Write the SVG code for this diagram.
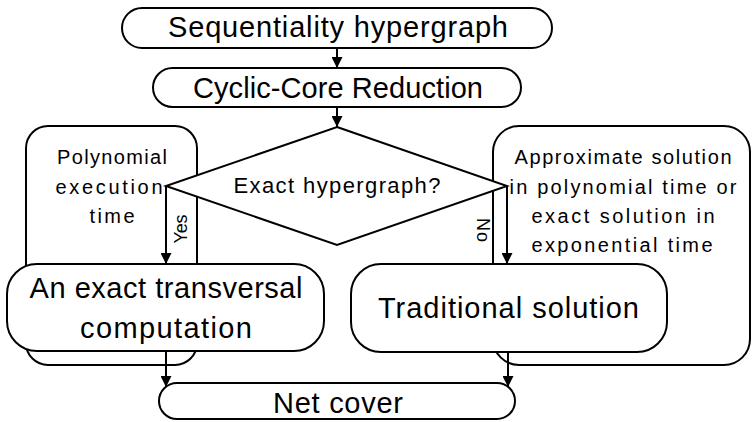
<svg xmlns="http://www.w3.org/2000/svg" width="753" height="422" viewBox="0 0 753 422">
  <style>
    .box { fill: #ffffff; stroke: #000000; stroke-width: 2; }
    .edge { fill: none; stroke: #000000; stroke-width: 2; }
    text { font-family: "Liberation Sans", Arial, sans-serif; fill: #000000; text-anchor: middle; }
    .big { font-size: 29px; }
    .mid { font-size: 22px; }
    .small { font-size: 20px; }
    .lbl { font-size: 18px; }
  </style>
  <defs>
    <marker id="arrow" markerUnits="userSpaceOnUse" markerWidth="11" markerHeight="11" refX="11" refY="5.5" orient="auto">
      <path d="M0,0 L11,5.5 L0,11 Z" fill="#000000"/>
    </marker>
  </defs>
  <rect width="753" height="422" fill="#ffffff"/>

  <g id="note-polynomial">
    <rect class="box" x="26" y="126" width="171" height="239" rx="22" ry="22"/>
    <text class="small" x="112" y="164" textLength="110" lengthAdjust="spacing">Polynomial</text>
    <text class="small" x="109" y="194" textLength="107" lengthAdjust="spacing">execution</text>
    <text class="small" x="112" y="223" textLength="45" lengthAdjust="spacing">time</text>
  </g>

  <g id="note-approximate">
    <rect class="box" x="493" y="126" width="257" height="239" rx="26" ry="26"/>
    <text class="small" x="623" y="164" textLength="217" lengthAdjust="spacing">Approximate solution</text>
    <text class="small" x="623" y="194" textLength="227" lengthAdjust="spacing">in polynomial time or</text>
    <text class="small" x="623" y="223" textLength="183" lengthAdjust="spacing">exact solution in</text>
    <text class="small" x="622" y="252" textLength="181" lengthAdjust="spacing">exponential time</text>
  </g>

  <g id="start">
    <rect class="box" x="122" y="8" width="430" height="40" rx="20" ry="20"/>
    <text class="big" x="338" y="37" textLength="340" lengthAdjust="spacing">Sequentiality hypergraph</text>
  </g>

  <g id="reduction">
    <rect class="box" x="153" y="68" width="368" height="39" rx="19.5" ry="19.5"/>
    <text class="big" x="338" y="98" textLength="290" lengthAdjust="spacing">Cyclic-Core Reduction</text>
  </g>

  <g id="decision">
    <polygon class="box" points="337,127 507,186 337,245 166,186"/>
    <text class="mid" x="337" y="193" textLength="207" lengthAdjust="spacing">Exact hypergraph?</text>
  </g>

  <g id="exact">
    <rect class="box" x="7" y="264" width="317" height="87" rx="30" ry="30"/>
    <text class="big" x="166" y="298" textLength="273" lengthAdjust="spacing">An exact transversal</text>
    <text class="big" x="166" y="338" textLength="172" lengthAdjust="spacing">computation</text>
  </g>

  <g id="traditional">
    <rect class="box" x="351" y="264" width="316" height="88" rx="30" ry="30"/>
    <text class="big" x="508.5" y="318" textLength="261" lengthAdjust="spacing">Traditional solution</text>
  </g>

  <g id="netcover">
    <rect class="box" x="159" y="383" width="356" height="36" rx="18" ry="18"/>
    <text class="big" x="338" y="413" textLength="130" lengthAdjust="spacing">Net cover</text>
  </g>

  <g id="connectors">
    <line class="edge" x1="337" y1="48" x2="337" y2="68" marker-end="url(#arrow)"/>
    <line class="edge" x1="337" y1="107" x2="337" y2="127" marker-end="url(#arrow)"/>
    <line class="edge" x1="166" y1="186" x2="166" y2="264" marker-end="url(#arrow)"/>
    <line class="edge" x1="507" y1="186" x2="507" y2="264" marker-end="url(#arrow)"/>
    <line class="edge" x1="166" y1="351" x2="166" y2="387" marker-end="url(#arrow)"/>
    <line class="edge" x1="508" y1="352" x2="508" y2="387" marker-end="url(#arrow)"/>
    <text class="lbl" transform="translate(187,229) rotate(-90)" x="0" y="0" textLength="29" lengthAdjust="spacing">Yes</text>
    <text class="lbl" transform="translate(477,230) rotate(90)" x="0" y="0" textLength="24" lengthAdjust="spacing">No</text>
  </g>
</svg>
